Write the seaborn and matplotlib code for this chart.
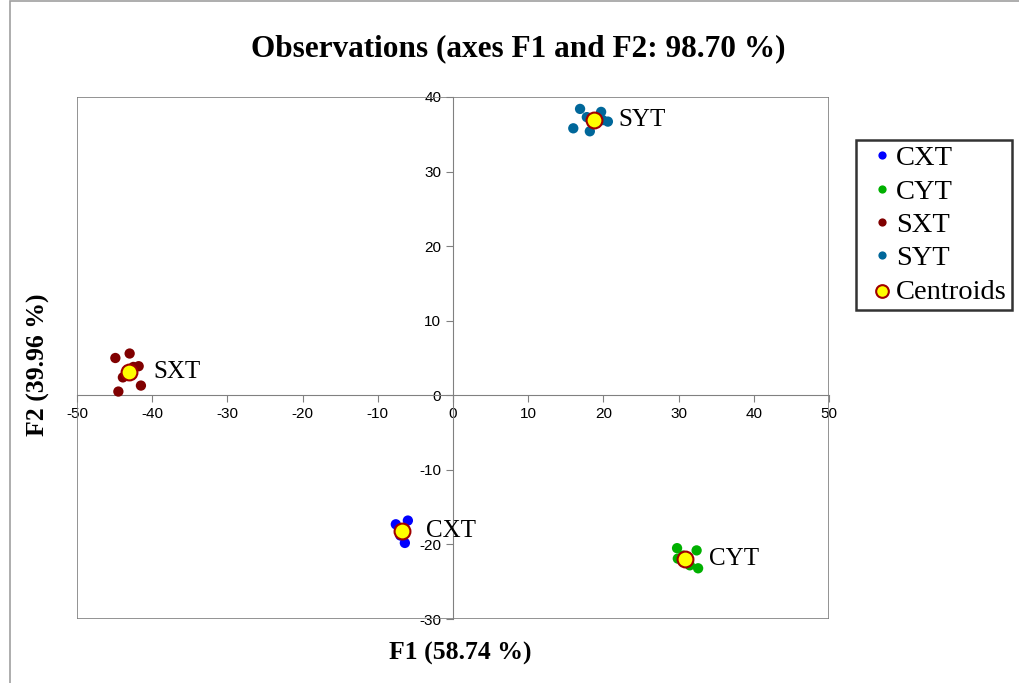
import matplotlib.pyplot as plt
import matplotlib.patches as mpatches
import pandas as pd
import seaborn as sns

cxt_f1 = [-7.6, -6.0, -6.4, -7.0, -6.6]
cxt_f2 = [-17.3, -16.8, -19.8, -18.8, -18.0]
cyt_f1 = [29.8, 32.4, 29.9, 32.6, 31.5, 30.6]
cyt_f2 = [-20.5, -20.8, -21.9, -23.2, -22.8, -21.5]
sxt_f1 = [-44.9, -43.0, -41.8, -41.5, -44.5, -43.9, -42.5]
sxt_f2 = [5.0, 5.6, 3.9, 1.3, 0.5, 2.4, 3.8]
syt_f1 = [16.9, 16.0, 18.2, 19.7, 19.9, 20.6, 17.8]
syt_f2 = [38.4, 35.8, 35.4, 38.0, 36.9, 36.7, 37.3]

groups = ["CXT", "CYT", "SXT", "SYT"]
centroid_f1 = [-6.8, 30.9, -43.1, 18.8]
centroid_f2 = [-18.2, -21.9, 3.1, 36.9]
colors = ["#0000ff", "#00b000", "#800000", "#00679a"]

obs = pd.DataFrame({
    "F1": cxt_f1 + cyt_f1 + sxt_f1 + syt_f1,
    "F2": cxt_f2 + cyt_f2 + sxt_f2 + syt_f2,
    "Group": ["CXT"] * len(cxt_f1) + ["CYT"] * len(cyt_f1)
    + ["SXT"] * len(sxt_f1) + ["SYT"] * len(syt_f1),
})
cent = pd.DataFrame({"F1": centroid_f1, "F2": centroid_f2, "Group": groups})

sns.set_style("white")
plt.rcParams["font.family"] = ["Liberation Serif", "DejaVu Serif"]
plt.rcParams["axes.unicode_minus"] = False
plt.rcParams["text.color"] = "black"
plt.rcParams["xtick.color"] = "black"
plt.rcParams["ytick.color"] = "black"

fig = plt.figure(figsize=(10.2, 6.83), dpi=100)
ax = fig.add_axes([0.0755, 0.0937, 0.7372, 0.7643])

sns.scatterplot(data=obs, x="F1", y="F2", hue="Group", palette=colors,
                s=55, linewidth=0, ax=ax, zorder=3)
sns.scatterplot(data=cent, x="F1", y="F2", color="#ffff00", edgecolor="#a00000",
                s=130, linewidth=1.5, ax=ax, zorder=4, label="Centroids")

for _, r in cent.iterrows():
    ax.text(r["F1"] + 3.2, r["F2"], r["Group"], fontsize=18, va="center", ha="left", zorder=5)

ax.set_xlim(-50, 50)
ax.set_ylim(-30, 40)
ax.set_xticks(range(-50, 51, 10))
ax.set_yticks(range(-30, 41, 10))
for s in ["left", "bottom"]:
    ax.spines[s].set_position(("data", 0))
    ax.spines[s].set_color("#808080")
for s in ["top", "right"]:
    ax.spines[s].set_visible(False)
ax.add_patch(mpatches.Rectangle((0, 0), 1, 1, transform=ax.transAxes, fill=False,
                                edgecolor="#808080", linewidth=1.2, zorder=1))
ax.tick_params(axis="both", direction="out", length=5, color="#808080",
               labelsize=11, bottom=True, left=True)
for lab in ax.get_xticklabels() + ax.get_yticklabels():
    lab.set_family(["Liberation Sans", "DejaVu Sans"])

ax.set_xlabel("")
ax.set_ylabel("")
fig.text(0.451, 0.043, "F1 (58.74 %)", fontsize=18.5, fontweight="bold", ha="center", va="center")
fig.text(0.038, 0.466, "F2 (39.96 %)", fontsize=18.5, fontweight="bold", ha="center", va="center",
         rotation=90)
fig.text(0.508, 0.928, "Observations (axes F1 and F2: 98.70 %)", fontsize=22.5,
         fontweight="bold", ha="center", va="center")

handles, labels = ax.get_legend_handles_labels()
leg = ax.legend(handles, labels, loc="upper left", bbox_to_anchor=(1.036, 0.918),
                frameon=True, fontsize=20.5, handletextpad=-0.2, borderpad=0.2,
                labelspacing=0.26, markerscale=0.8, fancybox=False, handlelength=1.4,
                borderaxespad=0)
leg.get_frame().set_edgecolor("black")
leg.get_frame().set_linewidth(1.8)

fig.add_artist(mpatches.Rectangle((0.0095, -0.01), 1.0, 1.009, transform=fig.transFigure,
                                  fill=False, edgecolor="#a0a0a0", linewidth=1.2))

fig.savefig("out.png", dpi=100)
